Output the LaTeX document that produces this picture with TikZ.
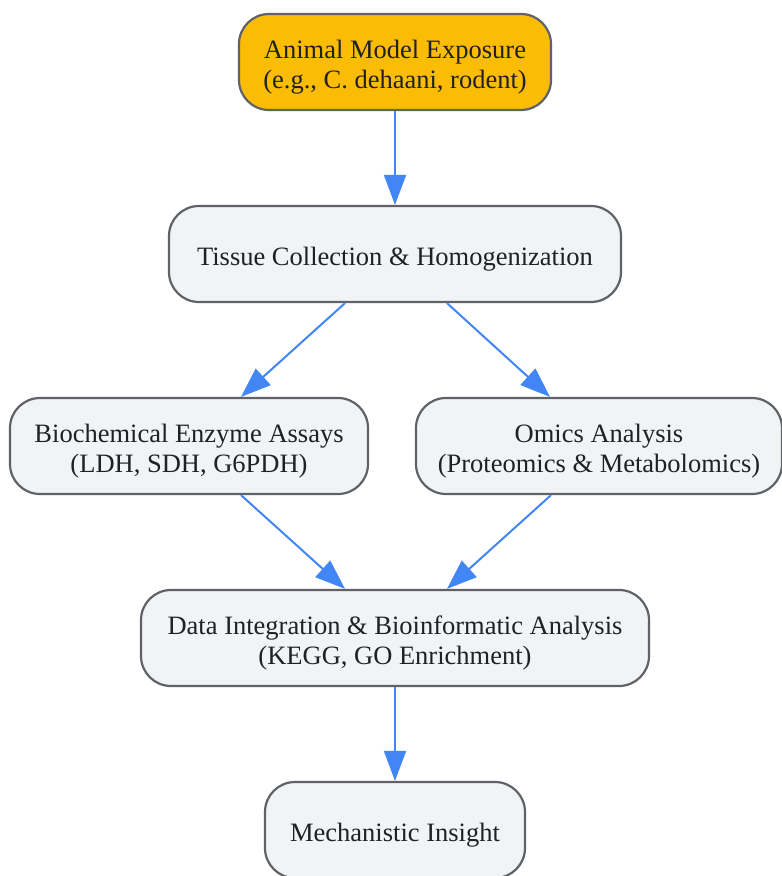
\documentclass[tikz,border=0pt]{standalone}
\usepackage{fontspec}
\setmainfont{Liberation Serif}
\usetikzlibrary{arrows.meta}
\definecolor{boxfill}{HTML}{F1F3F4}
\definecolor{startfill}{HTML}{FBBC05}
\definecolor{boxline}{HTML}{5F6368}
\definecolor{arrowblue}{HTML}{4285F4}
\definecolor{txt}{HTML}{202124}
\newcommand{\boxlbl}[1]{\raisebox{-5pt}[\height][\depth]{\begin{tabular}{@{}c@{}}#1\end{tabular}}}
\tikzset{
  box/.style={draw=boxline, line width=2.2pt, fill=boxfill, rounded corners=30pt,
    minimum height=96pt, inner sep=0pt, text=txt,
    font=\fontsize{26.5}{30}\selectfont},
  startbox/.style={box, fill=startfill},
  flow/.style={draw=arrowblue, line width=2pt, -{Triangle[length=30pt,width=22pt]}}
}
\begin{document}
\begin{tikzpicture}[x=1pt,y=1pt]
\useasboundingbox (0,0) rectangle (782,-876);
\node[startbox, minimum width=312pt] (a) at (395,-62) {\boxlbl{Animal Model Exposure\\(e.g., C. dehaani, rodent)}};
\node[box, minimum width=452pt] (b) at (395,-254) {\boxlbl{Tissue Collection \& Homogenization}};
\node[box, minimum width=358pt] (c) at (189,-446) {\boxlbl{Biochemical Enzyme Assays\\(LDH, SDH, G6PDH)}};
\node[box, minimum width=366pt] (d) at (599,-446) {\boxlbl{Omics Analysis\\(Proteomics \& Metabolomics)}};
\node[box, minimum width=508pt] (e) at (395,-638) {\boxlbl{Data Integration \& Bioinformatic Analysis\\(KEGG, GO Enrichment)}};
\node[box, minimum width=260pt] (f) at (395,-830) {\boxlbl{Mechanistic Insight}};
\draw[flow] (a.south) -- (b.north);
\draw[flow] ([xshift=-50pt]b.south) -- ([xshift=52pt]c.north);
\draw[flow] ([xshift=52pt]b.south) -- ([xshift=-49pt]d.north);
\draw[flow] ([xshift=52pt]c.south) -- ([xshift=-50pt]e.north);
\draw[flow] ([xshift=-48pt]d.south) -- ([xshift=52pt]e.north);
\draw[flow] (e.south) -- (f.north);
\end{tikzpicture}
\end{document}
